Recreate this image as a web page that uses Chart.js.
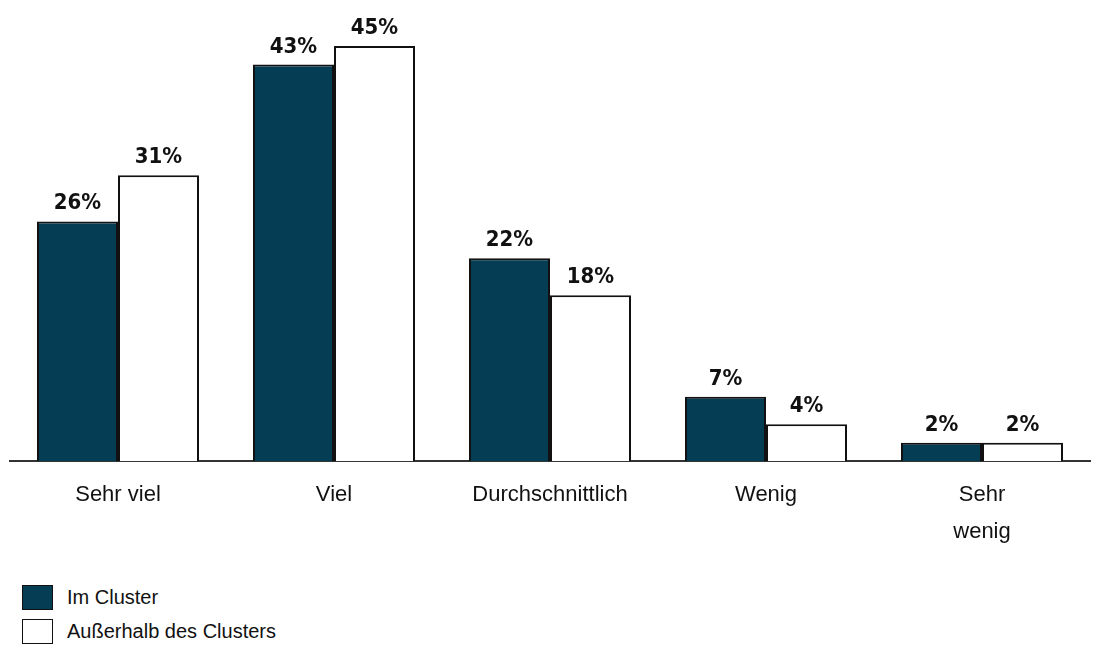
<!DOCTYPE html>
<html lang="de">
<head>
  <meta charset="UTF-8">
  <title>Zufriedenheit</title>
  <style>
    body {
      margin: 0;
      padding: 0;
      background-color: #ffffff;
      font-family: "Liberation Sans", Arial, sans-serif;
    }

    .wrap {
      position: relative;
      width: 1097px;
      height: 654px;
    }

    .chartBox {
      position: absolute;
      left: 0;
      top: 0;
      width: 1097px;
      height: 558px;
    }

    .legende {
      position: absolute;
      left: 22px;
      top: 584px;
      font-size: 20px;
      color: #111;
    }

    .legende div {
      display: flex;
      align-items: center;
      height: 26px;
      margin-bottom: 8px;
    }

    .box {
      width: 31px;
      height: 25px;
      border: 1.5px solid #111;
      margin-right: 14px;
      box-sizing: border-box;
    }
  </style>
</head>
<body>
  <div class="wrap">
    <div class="chartBox">
      <canvas id="grafico"></canvas>
    </div>
    <div class="legende" id="legende"></div>
  </div>

  <script src="https://cdn.jsdelivr.net/npm/chart.js"></script>
  <script>
    const kategorien = ['Sehr viel', 'Viel', 'Durchschnittlich', 'Wenig', ['Sehr', 'wenig']];
    const serien = ['Im Cluster', 'Außerhalb des Clusters'];
    const imCluster = [26, 43, 22, 7, 2];
    const ausserhalb = [31, 45, 18, 4, 2];
    const farben = ['#053d55', '#ffffff'];

    // Prozentwerte über die Balken schreiben
    const werteLabels = {
      id: 'werteLabels',
      afterDatasetsDraw(chart) {
        const ctx = chart.ctx;
        ctx.save();
        ctx.font = 'bold 22px "Liberation Sans Narrow", "DejaVu Sans Condensed", Arial, sans-serif';
        ctx.fillStyle = '#111';
        ctx.textAlign = 'center';
        ctx.textBaseline = 'alphabetic';
        chart.data.datasets.forEach((ds, i) => {
          chart.getDatasetMeta(i).data.forEach((bar, j) => {
            ctx.fillText(ds.data[j] + '%', bar.x, bar.y - 12);
          });
        });
        ctx.restore();
      }
    };

    const ctx = document.getElementById('grafico').getContext('2d');
    const grafico = new Chart(ctx, {
      type: 'bar',
      data: {
        labels: kategorien,
        datasets: [
          {
            label: serien[0],
            data: imCluster,
            backgroundColor: farben[0],
            borderColor: '#111',
            borderWidth: 2,
            categoryPercentage: 0.75,
            barPercentage: 1
          },
          {
            label: serien[1],
            data: ausserhalb,
            backgroundColor: farben[1],
            borderColor: '#111',
            borderWidth: 2,
            categoryPercentage: 0.75,
            barPercentage: 1
          }
        ]
      },
      options: {
        responsive: true,
        maintainAspectRatio: false,
        animation: false,
        layout: { padding: { left: 10, right: 7, top: 0, bottom: 0 } },
        plugins: {
          legend: { display: false },
          tooltip: { enabled: false }
        },
        scales: {
          x: {
            grid: { display: false },
            border: { display: true, color: '#333', width: 2 },
            ticks: {
              color: '#111',
              padding: 7,
              maxRotation: 0,
              font: { family: '"Liberation Sans", Arial, sans-serif', size: 22, lineHeight: 1.7 }
            }
          },
          y: {
            display: false,
            min: 0,
            max: 50
          }
        }
      },
      plugins: [werteLabels]
    });

    // Legende als HTML, untereinander
    const legende = document.getElementById('legende');
    serien.forEach((name, i) => {
      const zeile = document.createElement('div');
      const kasten = document.createElement('span');
      kasten.className = 'box';
      kasten.style.backgroundColor = farben[i];
      zeile.appendChild(kasten);
      zeile.appendChild(document.createTextNode(name));
      legende.appendChild(zeile);
    });
  </script>
</body>
</html>
